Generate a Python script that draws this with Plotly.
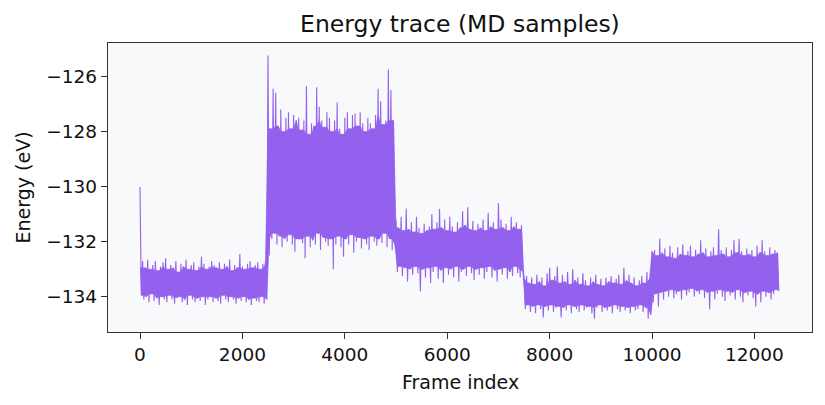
import numpy as np
import plotly.graph_objects as go

# Frame windows: each segment holds 2500 frames, sampled as peak/trough per 50-frame window
segment_starts = [0, 2500, 5000, 7500, 10000]
window = 50

# Peak energies (eV) per 50-frame window, per segment
seg0_peak = [-130.02, -132.7, -132.95, -132.65, -133.0, -132.85, -132.7, -133.05, -132.9, -132.75,
             -132.6, -133.0, -132.85, -132.95, -132.7, -133.1, -132.8, -132.9, -132.65, -133.0,
             -132.85, -132.75, -133.05, -132.9, -132.55, -132.8, -133.0, -132.9, -132.7, -132.85,
             -132.95, -132.75, -133.0, -132.8, -132.9, -132.65, -133.05, -132.85, -132.95, -132.45,
             -132.9, -133.0, -132.8, -132.7, -132.95, -132.85, -132.75, -133.0, -132.8, -132.7]
seg1_peak = [-125.24, -127.9, -126.45, -126.6, -127.8, -127.2, -128.0, -127.5, -127.3, -127.9,
             -127.4, -127.6, -127.5, -127.95, -127.6, -126.35, -128.1, -127.7, -127.8, -126.4,
             -127.1, -127.6, -127.85, -127.3, -127.5, -128.0, -127.6, -126.95, -127.9, -128.1,
             -127.5, -127.3, -127.9, -127.4, -127.35, -127.8, -127.3, -127.7, -128.0, -127.5,
             -127.7, -127.9, -127.4, -126.45, -126.9, -127.75, -127.6, -125.75, -126.5, -127.6]
seg2_peak = [-131.2, -131.5, -131.1, -131.6, -130.8, -131.55, -131.3, -131.65, -131.1, -131.5,
             -131.7, -131.35, -131.6, -131.45, -131.0, -131.55, -131.3, -130.82, -131.5, -131.2,
             -131.6, -131.1, -131.45, -131.65, -131.3, -131.5, -130.9, -131.4, -130.75, -131.55,
             -131.25, -131.6, -131.35, -131.5, -131.2, -131.6, -130.95, -131.45, -131.3, -131.55,
             -130.6, -131.2, -131.5, -131.35, -131.6, -131.1, -131.45, -131.3, -131.55, -131.4]
seg3_peak = [-133.3, -133.25, -133.5, -133.3, -133.55, -133.2, -133.45, -133.3, -133.6, -133.15,
             -132.95, -133.4, -133.25, -132.9, -133.5, -133.2, -133.45, -133.1, -133.55, -133.0,
             -133.4, -133.3, -133.55, -133.15, -133.4, -133.6, -133.3, -133.45, -133.2, -133.55,
             -133.35, -133.6, -133.3, -133.45, -133.25, -133.5, -133.35, -133.2, -133.55, -132.95,
             -133.4, -133.2, -133.5, -133.3, -133.6, -133.4, -133.25, -133.5, -133.1, -133.35]
seg4_peak = [-132.35, -132.3, -132.5, -131.9, -132.4, -132.25, -132.55, -132.15, -132.4, -132.6,
             -132.2, -132.45, -132.1, -132.5, -132.35, -132.15, -132.55, -132.3, -132.45, -131.95,
             -132.4, -132.25, -132.55, -132.35, -132.2, -132.5, -131.55, -132.3, -132.45, -132.2,
             -132.55, -132.3, -131.95, -132.4, -131.9, -132.35, -132.5, -132.25, -132.45, -132.3,
             -132.55, -132.15, -132.4, -131.95, -132.35, -132.5, -132.2, -132.45, -132.3, -132.4]

# Trough energies (eV) per 50-frame window (offset by half a window), per segment
seg0_trough = [-133.95, -134.1, -134.0, -134.2, -133.9, -134.15, -134.05, -134.3, -134.0, -134.1,
               -134.2, -133.95, -134.1, -134.25, -134.05, -134.0, -134.2, -134.1, -134.3, -133.95,
               -134.1, -134.2, -134.05, -134.15, -134.0, -134.3, -134.1, -134.0, -134.2, -134.05,
               -134.15, -134.25, -133.95, -134.1, -134.2, -134.0, -134.1, -134.25, -134.05, -134.15,
               -134.0, -134.2, -134.1, -134.3, -134.05, -134.15, -134.2, -134.0, -134.25, -134.1]
seg1_trough = [-132.5, -131.9, -131.7, -132.1, -131.8, -132.2, -131.9, -132.0, -131.75, -132.1,
               -132.37, -131.9, -131.9, -132.05, -132.6, -131.8, -132.2, -131.95, -132.1, -131.7,
               -132.3, -131.85, -132.0, -132.15, -131.9, -133.0, -132.1, -131.8, -132.2, -132.55,
               -131.9, -132.1, -131.75, -132.4, -132.0, -131.85, -132.25, -131.9, -132.1, -132.3,
               -131.8, -132.0, -132.15, -131.9, -132.05, -131.7, -132.2, -131.9, -132.3, -132.1]
seg2_trough = [-133.1, -132.9, -133.25, -132.95, -133.45, -133.0, -133.2, -132.9, -133.15, -133.8,
               -133.0, -133.3, -132.95, -133.5, -133.1, -132.9, -133.35, -133.05, -133.5, -132.95,
               -133.2, -133.0, -133.3, -132.9, -133.45, -133.1, -133.0, -133.25, -132.9, -133.15,
               -133.4, -133.0, -133.2, -132.95, -133.35, -133.1, -132.9, -133.3, -133.05, -133.45,
               -133.0, -133.2, -132.95, -133.35, -133.1, -133.25, -132.9, -133.15, -133.3, -133.05]
seg3_trough = [-134.45, -134.3, -134.55, -134.35, -134.6, -134.3, -134.45, -134.75, -134.35, -134.5,
               -134.3, -134.55, -134.4, -134.35, -134.75, -134.4, -134.5, -134.3, -134.6, -134.35,
               -134.45, -134.55, -134.3, -134.5, -134.4, -134.35, -134.6, -134.8, -134.4, -134.3,
               -134.55, -134.4, -134.5, -134.35, -134.6, -134.3, -134.45, -134.55, -134.35, -134.5,
               -134.4, -134.6, -134.35, -134.5, -134.45, -134.3, -134.55, -134.4, -134.8, -134.65]
seg4_trough = [-134.2, -133.9, -134.35, -133.85, -134.1, -133.8, -134.0, -133.75, -134.05, -133.9,
               -133.8, -134.1, -133.75, -133.95, -133.85, -133.7, -134.0, -133.8, -133.9, -133.75,
               -134.05, -133.85, -134.45, -133.8, -134.1, -133.9, -133.75, -134.0, -134.15, -133.8,
               -133.95, -133.85, -134.1, -133.75, -134.0, -134.2, -133.85, -133.95, -133.8, -134.05,
               -134.35, -133.9, -134.2, -133.8, -134.0, -133.85, -134.1, -133.9, -133.75, -133.8]

x_tick_vals = [0, 2000, 4000, 6000, 8000, 10000, 12000]
x_tick_text = ["0", "2000", "4000", "6000", "8000", "10000", "12000"]
y_tick_vals = [-134, -132, -130, -128, -126]

peaks = [seg0_peak, seg1_peak, seg2_peak, seg3_peak, seg4_peak]
troughs = [seg0_trough, seg1_trough, seg2_trough, seg3_trough, seg4_trough]


def rolling(vals, fn):
    """Neighbourhood reduction over each window and its two neighbours (within a segment)."""
    a = np.asarray(vals, dtype=float)
    left = np.concatenate([a[:1], a[:-1]])
    right = np.concatenate([a[1:], a[-1:]])
    return fn(fn(left, a), right)


trace_x, trace_y = [], []          # peak/trough zigzag (the raw trace look)
core_ux, core_uy, core_lx, core_ly = [], [], [], []   # solid body of the band
for start, pk, tr in zip(segment_starts, peaks, troughs):
    pk_core = rolling(pk[1:] if start == 0 else pk, np.minimum)
    if start == 0:
        pk_core = np.concatenate([pk_core[:1], pk_core])
    tr_core = rolling(tr, np.maximum)
    for j, (p, t) in enumerate(zip(pk, tr)):
        xp = start + j * window
        xt = xp + window // 2
        trace_x += [xp, xt]
        trace_y += [p, t]
        core_ux.append(xp)
        core_uy.append(pk_core[j])
        core_lx.append(xt)
        core_ly.append(tr_core[j])

poly_x = core_ux + core_lx[::-1]
poly_y = core_uy + core_ly[::-1]

line_color = "#9461ee"
axis_color = "#333333"
text_color = "#111111"

fig = go.Figure()
fig.add_trace(go.Scatter(x=poly_x, y=poly_y, mode="lines", fill="toself",
                         fillcolor=line_color,
                         line=dict(color=line_color, width=0.6, simplify=False),
                         hoverinfo="skip", showlegend=False))
fig.add_trace(go.Scatter(x=trace_x, y=trace_y, mode="lines",
                         line=dict(color=line_color, width=1.1, simplify=False),
                         hoverinfo="skip", showlegend=False))

font = "DejaVu Sans, Arial, sans-serif"
tick_size = 18.5
label_size = 19
fig.update_layout(
    width=825, height=405,
    margin=dict(l=108, r=13, t=43, b=73),
    paper_bgcolor="white",
    plot_bgcolor="#f8f9fb",
    font=dict(family=font, size=tick_size, color=text_color),
    title=dict(text="Energy trace (MD samples)", x=0.5575, xanchor="center",
               y=1 - 24 / 405, yanchor="middle", yref="container",
               font=dict(size=23.5, family=font, color=text_color)),
    xaxis=dict(range=[-625, 13124], tickvals=x_tick_vals, ticktext=x_tick_text,
               showgrid=False, zeroline=False, showline=True, mirror=True,
               linecolor=axis_color, linewidth=1.3, ticks="outside", ticklen=6,
               tickcolor=axis_color, tickwidth=1.3,
               tickfont=dict(size=tick_size, family=font, color=text_color)),
    yaxis=dict(range=[-135.28, -124.79], tickvals=y_tick_vals,
               showgrid=False, zeroline=False, showline=True, mirror=True,
               linecolor=axis_color, linewidth=1.3, ticks="outside", ticklen=6,
               tickcolor=axis_color, tickwidth=1.3,
               tickfont=dict(size=tick_size, family=font, color=text_color)),
    annotations=[
        dict(text="Frame index", xref="paper", yref="paper", x=0.5, y=-50 / 289,
             xanchor="center", yanchor="middle", showarrow=False,
             font=dict(size=label_size, family=font, color=text_color)),
        dict(text="Energy (eV)", xref="paper", yref="paper", x=-86 / 704, y=0.5,
             xanchor="center", yanchor="middle", textangle=-90, showarrow=False,
             font=dict(size=label_size, family=font, color=text_color)),
    ],
)

fig.write_html("out.html")
